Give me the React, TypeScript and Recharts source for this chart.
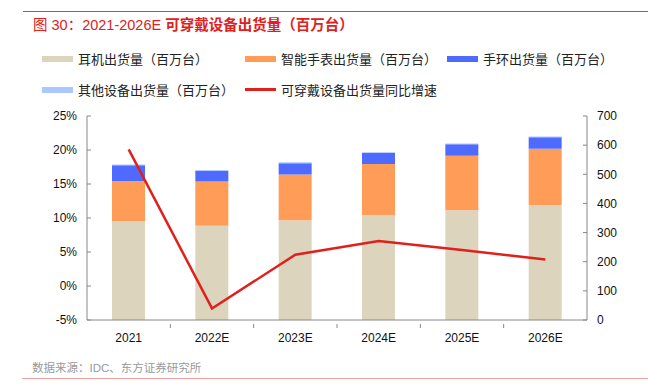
import { ComposedChart, Bar, Line, XAxis, YAxis } from "recharts"

const years = ["2021", "2022E", "2023E", "2024E", "2025E", "2026E"]
const earphones = [340, 323, 342, 360, 377, 395]
const watches = [137, 152, 157, 175, 187, 193]
const bands = [54, 37, 39, 38, 39, 39]
const others = [3, 3, 3, 3, 3, 3]
const growth = [20.1, -3.3, 4.6, 6.6, 5.3, 3.9]

const leftTicks = [-5, 0, 5, 10, 15, 20, 25]
const rightTicks = [0, 100, 200, 300, 400, 500, 600, 700]

const seriesNames = [
  "耳机出货量（百万台）",
  "智能手表出货量（百万台）",
  "手环出货量（百万台）",
  "其他设备出货量（百万台）",
  "可穿戴设备出货量同比增速",
]
const colors = ["#DDD4BD", "#FF9C58", "#4F6BFF", "#A8C8FF", "#E0201C"]

const data = years.map((y, i) => ({
  year: y,
  earphones: earphones[i],
  watches: watches[i],
  bands: bands[i],
  others: others[i],
  growth: growth[i],
}))

const font = "'Liberation Sans', Arial, 'Noto Sans CJK SC', sans-serif"

const XTick = (props: any) => {
  const { x, y, payload, index } = props
  const half = 500 / 6 / 2
  return (
    <g>
      {index < years.length - 1 && (
        <line x1={x + half} x2={x + half} y1={y - 4} y2={y} stroke="#888" />
      )}
      <text x={x} y={y + 14} textAnchor="middle" fill="#111" fontSize={12} fontFamily={font}>
        {payload.value}
      </text>
    </g>
  )
}

const legendPos = [
  { left: 42, top: 49 },
  { left: 245, top: 49 },
  { left: 447, top: 49 },
  { left: 42, top: 80 },
  { left: 245, top: 80 },
]

export default function App() {
  return (
    <div style={{ position: "absolute", left: 0, top: 0, width: 648, height: 387, background: "#fff", fontFamily: font }}>
      <div style={{ position: "absolute", left: 23, right: 0, top: 11, borderTop: "1px solid #E8413A" }} />
      <div style={{ position: "absolute", left: 33, top: 13, fontSize: 14.5, color: "#E0201C", whiteSpace: "nowrap" }}>
        图 30：2021-2026E <span style={{ fontWeight: "bold" }}>可穿戴设备出货量（百万台）</span>
      </div>
      {seriesNames.map((name, i) => (
        <div key={name} style={{ position: "absolute", left: legendPos[i].left, top: legendPos[i].top, display: "flex", alignItems: "center", whiteSpace: "nowrap", fontSize: 13, color: "#222" }}>
          <span
            style={{
              display: "inline-block",
              width: 31,
              height: i === 4 ? 2.5 : 6,
              background: colors[i],
              marginRight: 5,
            }}
          />
          {name}
        </div>
      ))}
      <div style={{ position: "absolute", left: 32, top: 359, fontSize: 11.5, color: "#999", whiteSpace: "nowrap" }}>
        数据来源：IDC、东方证券研究所
      </div>
      <div style={{ position: "absolute", left: 22, right: 0, top: 378, borderTop: "1px solid #F2A0A0" }} />
      <div style={{ position: "absolute", left: 0, top: 0 }}>
        <ComposedChart
          width={648}
          height={387}
          data={data}
          barCategoryGap="30%"
          margin={{ top: 116, right: 21, bottom: 37, left: 47 }}
        >
          <XAxis
            dataKey="year"
            height={30}
            axisLine={{ stroke: "#888" }}
            tickLine={false}
            tick={<XTick />}
          />
          <YAxis
            yAxisId="left"
            orientation="left"
            width={40}
            domain={[-5, 25]}
            ticks={leftTicks}
            tickFormatter={(v: number) => `${v}%`}
            axisLine={{ stroke: "#888" }}
            tickLine={{ stroke: "#888" }}
            tickSize={-4}
            tickMargin={14}
            tick={{ fill: "#111", fontSize: 12, fontFamily: font }}
            interval={0}
          />
          <YAxis
            yAxisId="right"
            orientation="right"
            width={40}
            domain={[0, 700]}
            ticks={rightTicks}
            axisLine={{ stroke: "#888" }}
            tickLine={{ stroke: "#888" }}
            tickSize={-4}
            tickMargin={14}
            tick={{ fill: "#111", fontSize: 12, fontFamily: font }}
            interval={0}
          />
          <Bar yAxisId="right" dataKey="earphones" stackId="a" fill={colors[0]} isAnimationActive={false} />
          <Bar yAxisId="right" dataKey="watches" stackId="a" fill={colors[1]} isAnimationActive={false} />
          <Bar yAxisId="right" dataKey="bands" stackId="a" fill={colors[2]} isAnimationActive={false} />
          <Bar yAxisId="right" dataKey="others" stackId="a" fill={colors[3]} isAnimationActive={false} />
          <Line
            yAxisId="left"
            dataKey="growth"
            stroke={colors[4]}
            strokeWidth={2.5}
            dot={false}
            type="linear"
            isAnimationActive={false}
          />
        </ComposedChart>
      </div>
    </div>
  )
}
